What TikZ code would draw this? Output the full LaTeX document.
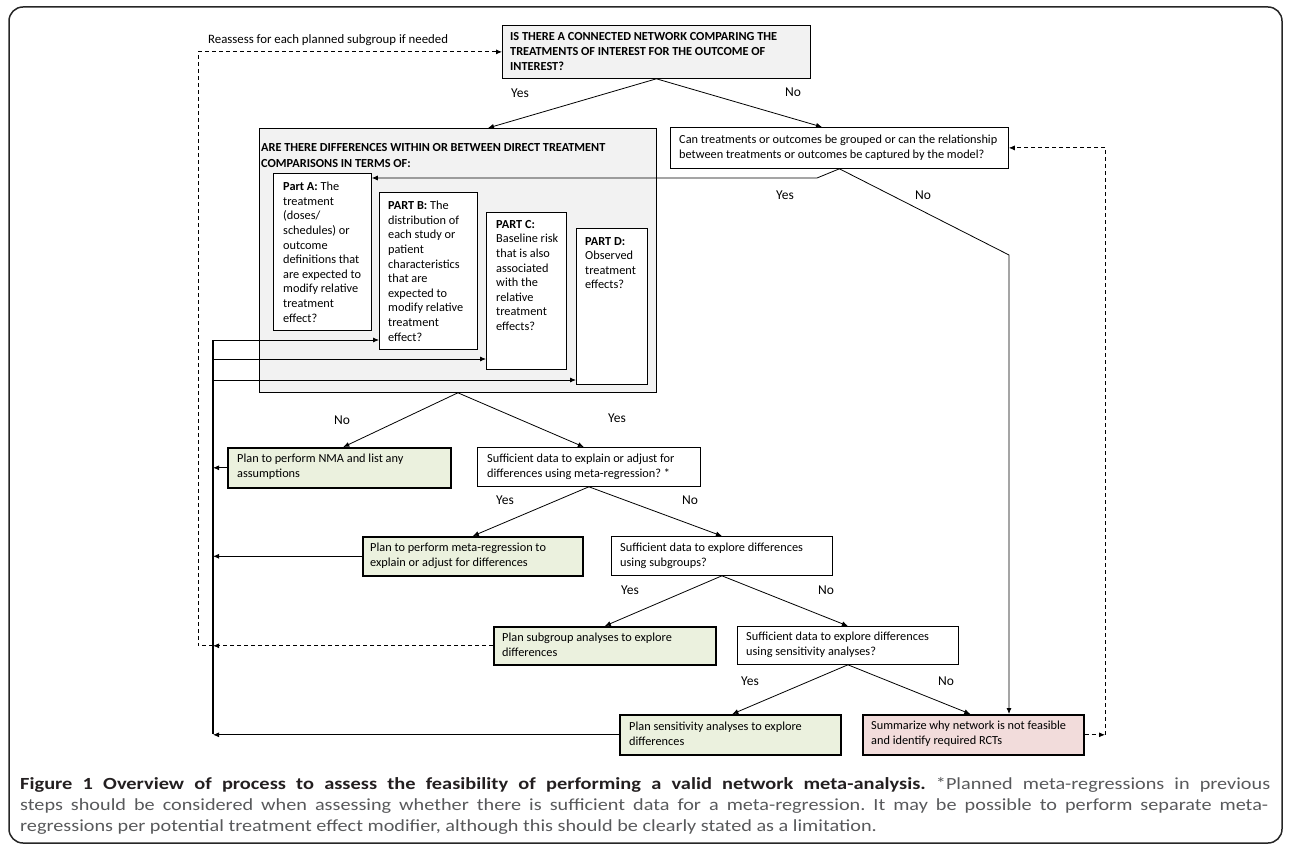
\documentclass[tikz,border=0pt]{standalone}
\usepackage{fontspec}
\setmainfont{Carlito}
\newfontfamily\capfont[FakeStretch=1.19]{Carlito}
\newfontfamily\capbf[FakeStretch=1.2]{Carlito}
\usetikzlibrary{arrows.meta,calc}
\definecolor{gbox}{HTML}{F2F2F2}
\definecolor{greenbox}{HTML}{EBF1DE}
\definecolor{pinkbox}{HTML}{F2DCDB}
\definecolor{captxt}{HTML}{58595B}
\definecolor{capbold}{HTML}{231F20}
\frenchspacing
\begin{document}
\begin{tikzpicture}[x=1pt,y=-1pt,
  font=\fontsize{12.3}{15}\selectfont,
  box/.style={draw=black, line width=0.8pt, anchor=north west, inner sep=0pt},
  qbox/.style={box, fill=white},
  greybox/.style={box, fill=gbox},
  planbox/.style={box, fill=greenbox, line width=1.6pt},
  failbox/.style={box, fill=pinkbox, line width=1.6pt},
  txt/.style={anchor=west, align=left, inner sep=0pt},
  parttxt/.style={anchor=north west, align=left, inner sep=0pt, font=\fontsize{12.3}{14.6}\selectfont},
  lab/.style={inner sep=0pt, font=\fontsize{13.5}{15}\selectfont},
  arr/.style={-{Latex[length=6pt,width=5pt]}, line width=0.8pt},
  dsh/.style={dash pattern=on 4pt off 3pt, line width=0.8pt},
  capline/.style={anchor=west, inner sep=0pt, font=\capfont\fontsize{17}{21}\selectfont, text=captxt},
]
\useasboundingbox (0,0) rectangle (1290,850);
\draw[line width=1.5pt, draw=black!85, rounded corners=14pt] (9,7) rectangle (1282,843);

% top question
\node[greybox, minimum width=308pt, minimum height=53pt] (T) at (502,25) {};
\node[txt, font=\fontsize{12.3}{15}\selectfont\bfseries] (Tt) at (510,52) {IS THERE A CONNECTED NETWORK COMPARING THE\\TREATMENTS OF INTEREST FOR THE OUTCOME OF\\INTEREST?};

% grey differences box
\node[greybox, minimum width=397pt, minimum height=264pt] (G) at (259,128) {};
\node[txt, font=\fontsize{12.3}{16}\selectfont\bfseries] (Gt) at (261,156) {ARE THERE DIFFERENCES WITHIN OR BETWEEN DIRECT TREATMENT\\COMPARISONS IN TERMS OF:};

\node[qbox, minimum width=98pt, minimum height=157pt] (PA) at (273,173) {};
\node[parttxt] (PAt) at (283,182) {\textbf{Part A:} The\\treatment\\(doses/\\schedules) or\\outcome\\definitions that\\are expected to\\modify relative\\treatment\\effect?};
\node[qbox, minimum width=98pt, minimum height=157pt] (PB) at (379,192) {};
\node[parttxt] (PBt) at (388,201) {\textbf{PART B:} The\\distribution of\\each study or\\patient\\characteristics\\that are\\expected to\\modify relative\\treatment\\effect?};
\node[qbox, minimum width=80pt, minimum height=157pt] (PC) at (486,212) {};
\node[parttxt] (PCt) at (496,220) {\textbf{PART C:}\\Baseline risk\\that is also\\associated\\with the\\relative\\treatment\\effects?};
\node[qbox, minimum width=71pt, minimum height=156pt] (PD) at (576,228) {};
\node[parttxt] (PDt) at (585,237) {\textbf{PART D:}\\Observed\\treatment\\effects?};

% can treatments be grouped
\node[qbox, minimum width=338pt, minimum height=41pt] (C1) at (670,127) {};
\node[txt] (C1t) at (679,147.5) {Can treatments or outcomes be grouped or can the relationship\\between treatments or outcomes be captured by the model?};

% lower boxes
\node[planbox, minimum width=223pt, minimum height=40pt] (NMA) at (227,447) {};
\node[txt] (NMAt) at (237,467) {Plan to perform NMA and list any\\assumptions};
\node[qbox, minimum width=223pt, minimum height=39pt] (S1) at (477,447) {};
\node[txt] (S1t) at (487,466.5) {Sufficient data to explain or adjust for\\differences using meta-regression? *};
\node[planbox, minimum width=220pt, minimum height=39pt] (MR) at (362,536) {};
\node[txt] (MRt) at (370,555.5) {Plan to perform meta-regression to\\explain or adjust for differences};
\node[qbox, minimum width=221pt, minimum height=39pt] (S2) at (611,536) {};
\node[txt] (S2t) at (620,555.5) {Sufficient data to explore differences\\using subgroups?};
\node[planbox, minimum width=222pt, minimum height=38pt] (SG) at (493,626) {};
\node[txt] (SGt) at (502,645) {Plan subgroup analyses to explore\\differences};
\node[qbox, minimum width=221pt, minimum height=38pt] (S3) at (737,626) {};
\node[txt] (S3t) at (746,645) {Sufficient data to explore differences\\using sensitivity analyses?};
\node[planbox, minimum width=221pt, minimum height=40pt] (Sens) at (619,714) {};
\node[txt] (Senst) at (629,734) {Plan sensitivity analyses to explore\\differences};
\node[failbox, minimum width=221pt, minimum height=40pt] (Summ) at (862,714) {};
\node[txt] (Summt) at (871,734) {Summarize why network is not feasible\\and identify required RCTs};

% labels
\node[lab] (y1) at (520,93) {Yes};
\node[lab] (n1) at (793,92) {No};
\node[lab] (y2) at (785,195) {Yes};
\node[lab] (n2) at (923,195) {No};
\node[lab] (n3) at (342,420) {No};
\node[lab] (y3) at (617,418) {Yes};
\node[lab] (y4) at (505,500) {Yes};
\node[lab] (n4) at (690,500) {No};
\node[lab] (y5) at (630,590) {Yes};
\node[lab] (n5) at (826,590) {No};
\node[lab] (y6) at (750,681) {Yes};
\node[lab] (n6) at (946,681) {No};
\node[txt, font=\fontsize{12.8}{15}\selectfont] (re) at (208,40) {Reassess for each planned subgroup if needed};

% helper coordinates
\coordinate (jy) at (817,178);
\coordinate (nA) at (1009,255);
\coordinate (vb) at (213,340);
\coordinate (vc) at (213,359);
\coordinate (vd) at (213,380);
\coordinate (vbot) at (213,733.5);
\coordinate (dx) at (198,0);
\coordinate (rx) at (1105,0);

% tree connectors
\draw[arr] (T.south) -- ([xshift=229pt]G.north west);
\draw[arr] (T.south) -- ([xshift=152pt]C1.north west);
\draw[arr] (C1.south) -- (jy) -- (jy -| PA.east);
\draw[arr] (C1.south) -- (nA) -- (nA |- Summ.north);
\draw[arr] (G.south) -- ([xshift=4pt]NMA.north);
\draw[arr] (G.south) -- ([xshift=-5pt]S1.north);
\draw[arr] (S1.south) -- (MR.north);
\draw[arr] (S1.south) -- (S2.north);
\draw[arr] (S2.south) -- (SG.north);
\draw[arr] (S2.south) -- (S3.north);
\draw[arr] (S3.south) -- ([xshift=2pt]Sens.north);
\draw[arr] (S3.south) -- ([xshift=-3pt]Summ.north);

% left feedback
\draw[dsh] (SG.west -| vb) -- (SG.west -| dx) -- (T.west -| dx);
\draw[dsh, arr] (T.west -| dx) -- (T.west);
\draw[line width=2pt] (vb) -- (vbot);
\draw[arr] (vb) -- (vb -| PB.west);
\draw[arr] (vc) -- (vc -| PC.west);
\draw[arr] (vd) -- (vd -| PD.west);
\draw[arr] (NMA.west) -- (NMA.west -| vb);
\draw[arr] (MR.west) -- (MR.west -| vb);
\draw[arr, dsh] (SG.west) -- (SG.west -| vb);
\draw[arr] (Sens.west) -- (Sens.west -| vb);

% right feedback
\draw[arr, dsh] (Summ.east) -- (Summ.east -| rx);
\draw[dsh] (Summ.east -| rx) -- (C1.east -| rx);
\draw[arr, dsh] (C1.east -| rx) -- (C1.east);

% caption
\node[capline] (cap1) at (20,785) {\makebox[1250pt][s]{\textcolor{capbold}{\capbf\bfseries Figure 1 Overview of process to assess the feasibility of performing a valid network meta-analysis.} *Planned meta-regressions in previous}};
\node[capline] (cap2) at (20,806) {\makebox[1248pt][s]{steps should be considered when assessing whether there is sufficient data for a meta-regression. It may be possible to perform separate meta-}};
\node[capline] (cap3) at (20,827) {regressions per potential treatment effect modifier, although this should be clearly stated as a limitation.};
\end{tikzpicture}
\end{document}
